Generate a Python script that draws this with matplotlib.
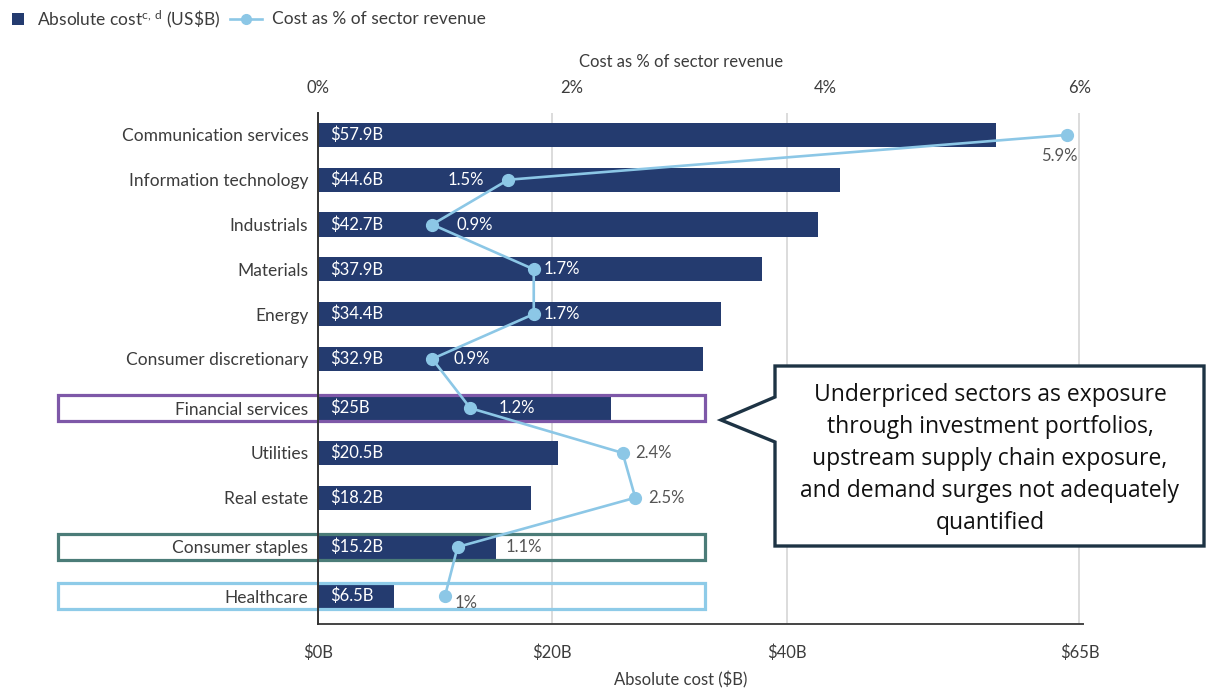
import matplotlib
matplotlib.use('Agg')
import matplotlib.pyplot as plt
from matplotlib.patches import Rectangle, Polygon
from matplotlib.lines import Line2D

plt.rcParams['font.family'] = ['Lato', 'DejaVu Sans']
plt.rcParams['mathtext.default'] = 'regular'

# --- data ---
sectors = ['Communication services', 'Information technology', 'Industrials',
           'Materials', 'Energy', 'Consumer discretionary', 'Financial services',
           'Utilities', 'Real estate', 'Consumer staples', 'Healthcare']
cost_bn = [57.9, 44.6, 42.7, 37.9, 34.4, 32.9, 25, 20.5, 18.2, 15.2, 6.5]
pct_revenue = [5.9, 1.5, 0.9, 1.7, 1.7, 0.9, 1.2, 2.4, 2.5, 1.1, 1.0]
cost_ticks = [0, 20, 40, 65]
cost_tick_labels = ['$0B', '$20B', '$40B', '$65B']
pct_ticks = [0, 2, 4, 6]
pct_tick_labels = ['0%', '2%', '4%', '6%']
highlighted = ['Financial services', 'Consumer staples', 'Healthcare']
callout_text = ('Underpriced sectors as exposure\nthrough investment portfolios,\n'
                'upstream supply chain exposure,\nand demand surges not adequately\nquantified')

# --- styling ---
NAVY = '#243b6f'
LIGHT_BLUE = '#8cc7e6'
TEXT = '#3c3c3c'
BOX_COLORS = ['#7e58a8', '#4b7c78', '#8ecbe8']
W, H = 1206, 692

# label offsets (pixels) for the % annotations, and whether they sit on a bar
pct_dx = [11, -24, 24, 10, 10, 21, 28, 13, 13, 48, 10]
pct_dy = [-21, 0, 0, 0, 0, 0, 0, 0, 0, 0, -7]
pct_ha = ['right', 'right'] + ['left'] * 9
on_bar = [False, True, True, True, True, True, True, False, False, False, False]

# row positions: a little extra room above each outlined sector
rows = []
y = 0.0
for i, name in enumerate(sectors):
    if i > 0:
        y += 1.0 + (0.1 if name in highlighted else 0.0)
    rows.append(y)

fig = plt.figure(figsize=(W / 100, H / 100), dpi=100)
ax = fig.add_axes([318 / W, 1 - 624 / H, 765 / W, (624 - 113) / H])

ax.barh(rows, cost_bn, height=0.54, color=NAVY, zorder=2)
xmax = 65.3
ax.set_xlim(0, xmax)
ax.set_ylim(10.92, -0.49)

for r, v in zip(rows, cost_bn):
    ax.text(1.0, r, f'${v:g}B', color='white', va='center', ha='left',
            fontsize=12, zorder=4)

ax.set_yticks(rows)
ax.set_yticklabels(sectors, fontsize=12.5, color=TEXT)
ax.set_xticks(cost_ticks)
ax.set_xticklabels(cost_tick_labels, fontsize=12, color=TEXT)
ax.tick_params(axis='y', length=0, pad=7)
ax.tick_params(axis='x', length=0, pad=15)
ax.set_xlabel('Absolute cost ($B)', fontsize=12, color=TEXT)
ax.xaxis.set_label_coords((681 - 318) / 765, -0.092)
ax.grid(axis='x', color='#d9d9d9', linewidth=1.3, zorder=0)
for s in ['top', 'right']:
    ax.spines[s].set_visible(False)
ax.spines['left'].set_color('#333333')
ax.spines['left'].set_linewidth(1.4)
ax.spines['left'].set_zorder(3)
ax.spines['bottom'].set_color('#444444')
ax.spines['bottom'].set_linewidth(1.4)

# percent of revenue on a twin axis, 6% lined up with $65B
ax2 = ax.twiny()
ax2.set_xlim(0, xmax * 6 / 65)
ax2.plot(pct_revenue, rows, color=LIGHT_BLUE, linewidth=1.9, marker='o',
         markersize=8.5, zorder=5)
ax2.set_xticks(pct_ticks)
ax2.set_xticklabels(pct_tick_labels, fontsize=12, color=TEXT)
ax2.tick_params(axis='x', length=0, pad=12)
ax2.set_xlabel('Cost as % of sector revenue', fontsize=12, color=TEXT)
ax2.xaxis.set_label_coords((681 - 318) / 765, 1.09)
for s in ax2.spines.values():
    s.set_visible(False)

for i, p in enumerate(pct_revenue):
    ax2.annotate(f'{p:g}%', xy=(p, rows[i]), xytext=(pct_dx[i], pct_dy[i]),
                 textcoords='offset pixels', ha=pct_ha[i], va='center',
                 fontsize=12, color='white' if on_bar[i] else '#555555', zorder=6)

# outline boxes around the highlighted sectors
for name, col in zip(highlighted, BOX_COLORS):
    r = rows[sectors.index(name)]
    ax.add_patch(Rectangle((-22.2, r - 0.29), 55.2, 0.58, fill=False,
                           edgecolor=col, linewidth=2.3, clip_on=False, zorder=3))

# callout box with pointer
def fpx(x, y):
    return (x / W, 1 - y / H)

pts = [fpx(775, 366), fpx(1204, 366), fpx(1204, 546), fpx(775, 546),
       fpx(775, 442), fpx(721, 420), fpx(775, 397)]
fig.patches.append(Polygon(pts, closed=True, facecolor='white', edgecolor='#1d3344',
                           linewidth=2.4, transform=fig.transFigure, zorder=10))
fig.text(990 / W, 1 - 459 / H, callout_text, ha='center', va='center',
         fontsize=16.5, family=['Open Sans', 'DejaVu Sans'], color='#111111',
         linespacing=1.45, zorder=11)

# legend along the top edge
fig.patches.append(Rectangle(fpx(12, 25), 12 / W, 12 / H, facecolor=NAVY,
                             edgecolor='none', transform=fig.transFigure))
fig.text(*fpx(37, 19), 'Absolute cost$^{c,\\,d}$ (US\\$B)', fontsize=12.5,
         color=TEXT, va='center', ha='left')
fig.add_artist(Line2D([230 / W, 262 / W], [1 - 19 / H] * 2, color=LIGHT_BLUE,
                      linewidth=1.9, transform=fig.transFigure))
fig.add_artist(Line2D([246 / W], [1 - 19 / H], color=LIGHT_BLUE, marker='o',
                      markersize=7, transform=fig.transFigure))
fig.text(*fpx(272, 19), 'Cost as % of sector revenue', fontsize=12.5,
         color=TEXT, va='center', ha='left')

fig.savefig('out.png', dpi=100)
